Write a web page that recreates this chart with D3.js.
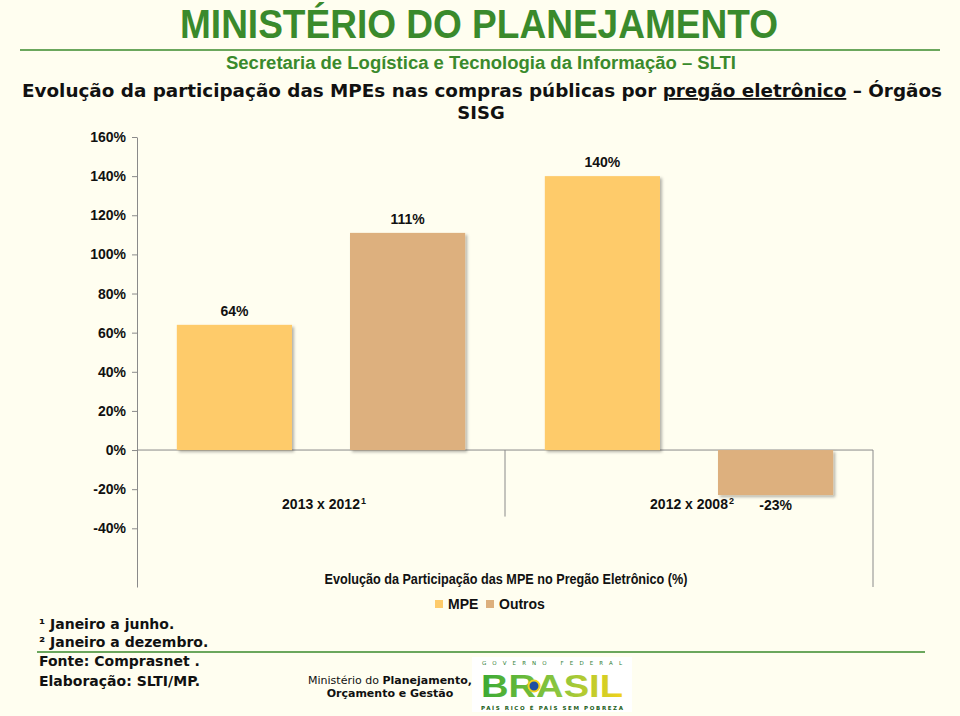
<!DOCTYPE html>
<html>
<head>
<meta charset="utf-8">
<script src="https://cdn.jsdelivr.net/npm/d3@7"></script>
<style>
  body { margin: 0; background: #fffef0; }
  svg { display: block; }
</style>
</head>
<body>
<div id="chart"></div>
<script>
const width = 960;
const height = 716;

// data
const categories = ["2013 x 2012", "2012 x 2008"];
const categorySup = ["1", "2"];
const series = ["MPE", "Outros"];
const mpeValues = [64, 140];
const outrosValues = [111, -23];
const yTicks = [-40, -20, 0, 20, 40, 60, 80, 100, 120, 140, 160];
const colors = { MPE: "#fecb6b", Outros: "#ddb07e" };

const green = "#3a8a2c";
const narrow = "'Liberation Sans Narrow', 'Liberation Sans', Arial, sans-serif";
const verdana = "'DejaVu Sans', Verdana, sans-serif";

const rows = [];
categories.forEach((c, i) => {
    rows.push({ cat: c, series: "MPE", value: mpeValues[i] });
    rows.push({ cat: c, series: "Outros", value: outrosValues[i] });
});

const svg = d3.select("#chart")
    .append("svg")
    .attr("width", width)
    .attr("height", height)
    .style("background", "#fffef0");

const defs = svg.append("defs");
defs.append("filter")
    .attr("id", "shadow")
    .attr("x", "-10%").attr("y", "-10%")
    .attr("width", "130%").attr("height", "130%")
    .append("feDropShadow")
    .attr("dx", 2).attr("dy", 2)
    .attr("stdDeviation", 1.5)
    .attr("flood-color", "#000")
    .attr("flood-opacity", 0.3);

// ---- header ----
svg.append("text")
    .attr("x", 479).attr("y", 38)
    .attr("text-anchor", "middle")
    .attr("textLength", 598).attr("lengthAdjust", "spacingAndGlyphs")
    .style("font-family", narrow).style("font-weight", "bold")
    .style("font-size", "41px").style("fill", green)
    .text("MINISTÉRIO DO PLANEJAMENTO");

svg.append("line")
    .attr("x1", 20).attr("x2", 940)
    .attr("y1", 50).attr("y2", 50)
    .attr("stroke", green).attr("stroke-width", 1.5);

svg.append("text")
    .attr("x", 481).attr("y", 69)
    .attr("text-anchor", "middle")
    .attr("textLength", 510).attr("lengthAdjust", "spacingAndGlyphs")
    .style("font-family", narrow).style("font-weight", "bold")
    .style("font-size", "18px").style("fill", green)
    .text("Secretaria de Logística e Tecnologia da Informação – SLTI");

const title = svg.append("text")
    .attr("x", 22).attr("y", 97)
    .attr("textLength", 920).attr("lengthAdjust", "spacingAndGlyphs")
    .style("font-family", verdana).style("font-weight", "bold")
    .style("font-size", "18px").style("fill", "#111");
title.append("tspan").text("Evolução da participação das MPEs nas compras públicas por ");
title.append("tspan").style("text-decoration", "underline").text("pregão eletrônico");
title.append("tspan").text(" – Órgãos");

svg.append("text")
    .attr("x", 481).attr("y", 119)
    .attr("text-anchor", "middle")
    .style("font-family", verdana).style("font-weight", "bold")
    .style("font-size", "18px").style("fill", "#111")
    .text("SISG");

// ---- chart ----
const plotLeft = 137, plotRight = 873;

const y = d3.scaleLinear()
    .domain([-70, 160])
    .range([587, 137]);

const x0 = d3.scaleBand()
    .domain(categories)
    .range([plotLeft, plotRight]);

const x1 = d3.scaleBand()
    .domain(series)
    .range([0, x0.bandwidth()])
    .paddingInner(0.335)
    .paddingOuter(0.23);

const chart = svg.append("g");

// y axis
const yAxis = chart.append("g")
    .attr("transform", `translate(${plotLeft},0)`)
    .call(d3.axisLeft(y).tickValues(yTicks).tickSize(5).tickPadding(6)
        .tickFormat(d => d + "%").tickSizeOuter(0));
yAxis.select(".domain").attr("stroke", "#8a8a8a");
yAxis.selectAll(".tick line").attr("stroke", "#8a8a8a");
yAxis.selectAll(".tick text")
    .style("font-family", narrow).style("font-weight", "bold")
    .style("font-size", "14px").style("fill", "#111");

// zero line and category dividers
chart.append("line")
    .attr("x1", plotLeft).attr("x2", plotRight)
    .attr("y1", y(0)).attr("y2", y(0))
    .attr("stroke", "#8a8a8a");
chart.append("line")
    .attr("x1", x0(categories[1])).attr("x2", x0(categories[1]))
    .attr("y1", y(0)).attr("y2", y(-34))
    .attr("stroke", "#8a8a8a");
chart.append("line")
    .attr("x1", plotRight).attr("x2", plotRight)
    .attr("y1", y(0)).attr("y2", y(-70))
    .attr("stroke", "#8a8a8a");

// bars
chart.selectAll("rect.bar")
    .data(rows)
    .enter()
    .append("rect")
    .attr("class", "bar")
    .attr("x", d => x0(d.cat) + x1(d.series))
    .attr("width", x1.bandwidth())
    .attr("y", d => y(Math.max(0, d.value)))
    .attr("height", d => Math.abs(y(d.value) - y(0)))
    .attr("fill", d => colors[d.series])
    .attr("filter", "url(#shadow)");

// value labels
chart.selectAll("text.val")
    .data(rows)
    .enter()
    .append("text")
    .attr("class", "val")
    .attr("x", d => x0(d.cat) + x1(d.series) + x1.bandwidth() / 2)
    .attr("y", d => d.value >= 0 ? y(d.value) - 9 : y(d.value) + 15)
    .attr("text-anchor", "middle")
    .style("font-family", narrow).style("font-weight", "bold")
    .style("font-size", "14px").style("fill", "#111")
    .text(d => d.value + "%");

// category labels
const catLabels = chart.selectAll("text.cat")
    .data(categories)
    .enter()
    .append("text")
    .attr("class", "cat")
    .attr("x", d => x0(d) + x0.bandwidth() / 2 + 3)
    .attr("y", y(-30))
    .attr("text-anchor", "middle")
    .style("font-family", narrow).style("font-weight", "bold")
    .style("font-size", "14px").style("fill", "#111");
catLabels.append("tspan").text(d => d);
catLabels.append("tspan")
    .attr("dy", -5).attr("dx", 1).style("font-size", "9px")
    .text((d, i) => categorySup[i]);

// axis title
chart.append("text")
    .attr("x", 506)
    .attr("y", 584)
    .attr("text-anchor", "middle")
    .attr("textLength", 363).attr("lengthAdjust", "spacingAndGlyphs")
    .style("font-family", narrow).style("font-weight", "bold")
    .style("font-size", "14px").style("fill", "#111")
    .text("Evolução da Participação das MPE no Pregão Eletrônico (%)");

// legend
const legend = chart.selectAll("g.legend")
    .data(series)
    .enter()
    .append("g")
    .attr("class", "legend")
    .attr("transform", (d, i) => `translate(${435 + i * 51},600)`);
legend.append("rect")
    .attr("width", 8).attr("height", 8)
    .attr("fill", d => colors[d]);
legend.append("text")
    .attr("x", 13).attr("y", 9)
    .style("font-family", narrow).style("font-weight", "bold")
    .style("font-size", "14px").style("fill", "#111")
    .text(d => d);

// ---- footer ----
const notes = ["¹ Janeiro a junho.", "² Janeiro a dezembro."];
svg.selectAll("text.note")
    .data(notes)
    .enter()
    .append("text")
    .attr("class", "note")
    .attr("x", 39)
    .attr("y", (d, i) => 629 + i * 18)
    .style("font-family", verdana).style("font-weight", "bold")
    .style("font-size", "14px").style("fill", "#111")
    .text(d => d);

svg.append("line")
    .attr("x1", 37).attr("x2", 925)
    .attr("y1", 652).attr("y2", 652)
    .attr("stroke", green).attr("stroke-width", 1.5);

const credits = ["Fonte: Comprasnet .", "Elaboração: SLTI/MP."];
svg.selectAll("text.credit")
    .data(credits)
    .enter()
    .append("text")
    .attr("class", "credit")
    .attr("x", 39)
    .attr("y", (d, i) => 666 + i * 20)
    .style("font-family", verdana).style("font-weight", "bold")
    .style("font-size", "14px").style("fill", "#111")
    .text(d => d);

const mp = svg.append("text")
    .attr("x", 390).attr("y", 684)
    .attr("text-anchor", "middle")
    .style("font-family", verdana)
    .style("font-size", "11px").style("fill", "#111");
mp.append("tspan").text("Ministério do ");
mp.append("tspan").style("font-weight", "bold").text("Planejamento,");
svg.append("text")
    .attr("x", 390).attr("y", 697)
    .attr("text-anchor", "middle")
    .style("font-family", verdana).style("font-weight", "bold")
    .style("font-size", "11px").style("fill", "#111")
    .text("Orçamento e Gestão");

// Governo Federal mark
const logo = svg.append("g").attr("transform", "translate(472,657)");
logo.append("rect").attr("width", 160).attr("height", 55).attr("fill", "#fff");
logo.append("text")
    .attr("x", 80).attr("y", 8).attr("text-anchor", "middle")
    .attr("textLength", 140).attr("lengthAdjust", "spacing")
    .style("font-family", verdana).style("font-size", "5.5px").style("fill", "#2e7d32")
    .text("GOVERNO FEDERAL");
const grad = defs.append("linearGradient").attr("id", "brasil")
    .attr("x1", "0").attr("x2", "1").attr("y1", "0").attr("y2", "0");
grad.append("stop").attr("offset", "0").attr("stop-color", "#3aa935");
grad.append("stop").attr("offset", "0.55").attr("stop-color", "#8cc63f");
grad.append("stop").attr("offset", "1").attr("stop-color", "#f2d21b");
logo.append("text")
    .attr("x", 80).attr("y", 40).attr("text-anchor", "middle")
    .attr("textLength", 142).attr("lengthAdjust", "spacingAndGlyphs")
    .style("font-family", narrow).style("font-weight", "bold")
    .style("font-size", "31px").style("fill", "url(#brasil)")
    .text("BRASIL");
logo.append("circle").attr("cx", 62).attr("cy", 29).attr("r", 5.5).attr("fill", "#1e4fa0")
    .attr("stroke", "#f2d21b").attr("stroke-width", 2);
logo.append("text")
    .attr("x", 80).attr("y", 53).attr("text-anchor", "middle")
    .attr("textLength", 142).attr("lengthAdjust", "spacing")
    .style("font-family", verdana).style("font-weight", "bold")
    .style("font-size", "5.5px").style("fill", "#1b5e20")
    .text("PAÍS RICO É PAÍS SEM POBREZA");
</script>
</body>
</html>
